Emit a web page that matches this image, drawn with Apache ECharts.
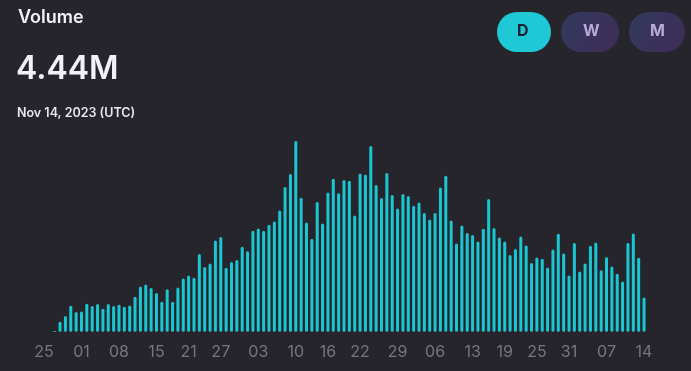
<!DOCTYPE html>
<html>
<head>
<meta charset="utf-8">
<script src="https://cdn.jsdelivr.net/npm/echarts@6/dist/echarts.min.js"></script>
<style>
html,body{margin:0;padding:0;background:#26252b;}
#chart{width:691px;height:371px;}
</style>
</head>
<body>
<div id="chart"></div>
<script>
// Daily categories Jul 25 – Nov 14, 2023
var categories = [
"Jul 25","Jul 26","Jul 27","Jul 28","Jul 29","Jul 30","Jul 31",
"Aug 01","Aug 02","Aug 03","Aug 04","Aug 05","Aug 06","Aug 07","Aug 08","Aug 09","Aug 10","Aug 11","Aug 12","Aug 13","Aug 14","Aug 15","Aug 16","Aug 17","Aug 18","Aug 19","Aug 20","Aug 21","Aug 22","Aug 23","Aug 24","Aug 25","Aug 26","Aug 27","Aug 28","Aug 29","Aug 30","Aug 31",
"Sep 01","Sep 02","Sep 03","Sep 04","Sep 05","Sep 06","Sep 07","Sep 08","Sep 09","Sep 10","Sep 11","Sep 12","Sep 13","Sep 14","Sep 15","Sep 16","Sep 17","Sep 18","Sep 19","Sep 20","Sep 21","Sep 22","Sep 23","Sep 24","Sep 25","Sep 26","Sep 27","Sep 28","Sep 29","Sep 30",
"Oct 01","Oct 02","Oct 03","Oct 04","Oct 05","Oct 06","Oct 07","Oct 08","Oct 09","Oct 10","Oct 11","Oct 12","Oct 13","Oct 14","Oct 15","Oct 16","Oct 17","Oct 18","Oct 19","Oct 20","Oct 21","Oct 22","Oct 23","Oct 24","Oct 25","Oct 26","Oct 27","Oct 28","Oct 29","Oct 30","Oct 31",
"Nov 01","Nov 02","Nov 03","Nov 04","Nov 05","Nov 06","Nov 07","Nov 08","Nov 09","Nov 10","Nov 11","Nov 12","Nov 13","Nov 14"
];
// Volume in millions
var volume = [
0,0,0.09,1.29,2.03,3.37,2.55,
2.63,3.62,3.33,3.59,2.98,3.59,3.33,3.50,3.24,3.40,4.53,5.86,6.12,5.66,5.01,3.88,5.48,3.88,5.73,6.90,7.29,6.99,10.06,8.38,8.84,11.82,12.26,8.28,9.02,9.28,11.00,
10.42,13.07,13.37,13.07,13.85,14.28,15.70,18.73,20.41,24.69,17.35,14.15,12.04,16.79,14.02,18.03,19.81,17.93,19.64,19.55,15.06,20.49,20.36,24.04,18.99,17.31,20.54,17.70,15.96,17.83,
17.57,16.31,16.74,15.37,14.54,15.37,18.68,20.19,14.40,11.43,13.76,12.78,12.52,11.69,13.33,17.18,13.42,12.21,11.69,9.93,10.71,12.34,11.17,8.89,9.62,9.44,8.31,10.65,12.69,10.14,7.29,
11.48,7.81,8.84,11.13,11.56,7.94,9.67,8.45,7.51,6.51,11.48,12.72,9.58,4.44
];
var tickLabels = ["Jul 25","Aug 01","Aug 08","Aug 15","Aug 21","Aug 27","Sep 03","Sep 10","Sep 16","Sep 22","Sep 29","Oct 06","Oct 13","Oct 19","Oct 25","Oct 31","Nov 07","Nov 14"];
var periods = ["D","W","M"];

var chart = echarts.init(document.getElementById('chart'), null, {renderer:'canvas'});
var FONT = 'Inter, "Noto Sans", sans-serif';

var graphics = [
  {type:'text', left:18, top:9, style:{text:'Volume', fill:'#f2f1f7', font:'600 18px ' + FONT}},
  {type:'text', left:16, top:53, style:{text:'4.44M', fill:'#f2f1f7', font:'600 32px ' + FONT}},
  {type:'text', left:17, top:107, style:{text:'Nov 14, 2023 (UTC)', fill:'#e8e7ee', font:'600 12.5px ' + FONT}}
];
var btnX = [497, 561, 629];
var btnW = [54, 58, 56];
periods.forEach(function(p, i){
  var active = i === 0;
  graphics.push({
    type:'rect', left:btnX[i], top:12,
    shape:{width:btnW[i], height:40, r:20},
    style:{fill: active ? '#1ec8d5' : new echarts.graphic.LinearGradient(0,0,1,1,[{offset:0,color:'#323a5e'},{offset:1,color:'#402c59'}])}
  });
  graphics.push({
    type:'text', left:btnX[i] + btnW[i]/2 - 7, top:23,
    style:{text:p, fill: active ? '#1b2035' : '#b9aad9', font:'700 16px ' + FONT}
  });
});

chart.setOption({
  backgroundColor:'#26252b',
  animation:false,
  graphic: graphics,
  grid:{left:41.3, right:44.3, top:138.6, bottom:39.3},
  xAxis:{
    type:'category',
    data:categories,
    boundaryGap:true,
    axisLine:{show:false},
    axisTick:{show:false},
    axisLabel:{
      interval:function(idx, val){ return tickLabels.indexOf(val) >= 0; },
      formatter:function(v){ return v.split(' ')[1]; },
      color:'#77767c',
      fontSize:16,
      fontFamily:FONT,
      margin:12,
      hideOverlap:false
    }
  },
  yAxis:{
    type:'value', min:0, max:25,
    show:false,
    splitLine:{show:false}
  },
  series:[{
    type:'bar',
    data:volume,
    barWidth:3,
    itemStyle:{color:'#1bc6d3', borderRadius:1.5}
  }]
});
</script>
</body>
</html>
